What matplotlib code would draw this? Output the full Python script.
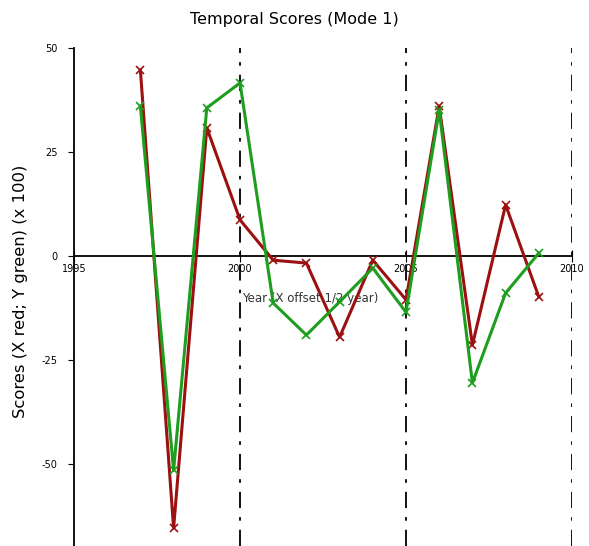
import numpy as np
import matplotlib.pyplot as plt

years = [1997, 1998, 1999, 2000, 2001, 2002, 2003, 2004, 2005, 2006, 2007, 2008, 2009]
x_scores = [44.7, -65.4, 30.8, 8.7, -1.0, -1.7, -19.5, -1.0, -10.5, 36.0, -21.4, 12.3, -9.8]
y_scores = [36.0, -51.5, 35.6, 41.6, -11.3, -19.0, -11.0, -2.9, -13.5, 35.0, -30.5, -8.9, 0.7]
decades = [2000, 2005, 2010]
xticks = [1995, 2000, 2005, 2010]
yticks = [50, 25, 0, -25, -50]

RED = "#9b1010"
GREEN = "#1e9e1e"


def main() -> None:
    fig = plt.figure(figsize=(5.89, 5.46), dpi=100)
    ax = fig.add_axes([74 / 589, 0.0, 498 / 589, 1 - 48 / 546])

    # dash-dot reference lines every five years
    for d in decades:
        ax.axvline(d, color="black", lw=1.3, linestyle=(0, (9, 5, 2, 5)), zorder=1)

    ax.plot(years, x_scores, color=RED, lw=2.2, marker="x", ms=6, mew=1.2, zorder=3)
    ax.plot(years, y_scores, color=GREEN, lw=2.2, marker="x", ms=6, mew=1.2, zorder=4)

    ax.set_xlim(1995, 2010)
    ax.set_ylim(-69.7, 50)

    ax.spines["top"].set_visible(False)
    ax.spines["right"].set_visible(False)
    ax.spines["bottom"].set_position(("data", 0))
    ax.spines["left"].set_linewidth(1.3)
    ax.spines["bottom"].set_linewidth(1.3)

    ax.set_xticks(xticks)
    ax.set_xticklabels([str(t) for t in xticks])
    ax.set_yticks(yticks)
    ax.set_yticklabels([str(t) for t in yticks])
    ax.tick_params(axis="x", direction="inout", length=8, labelsize=7, pad=2)
    ax.tick_params(axis="y", direction="out", length=4, labelsize=7, pad=8)

    ax.text(2000.05, -10.3, "Year (X offset 1/2 year)", fontsize=8.5, color="#333333",
            ha="left", va="center", zorder=2)

    ax.set_ylabel("Scores (X red; Y green) (x 100)", fontsize=11.8)
    ax.yaxis.set_label_coords(-0.092, 0.512)
    fig.text(0.5, 0.965, "Temporal Scores (Mode 1)", ha="center", va="center", fontsize=11.5)

    fig.savefig("out.png", dpi=100)


if __name__ == "__main__":
    main()
